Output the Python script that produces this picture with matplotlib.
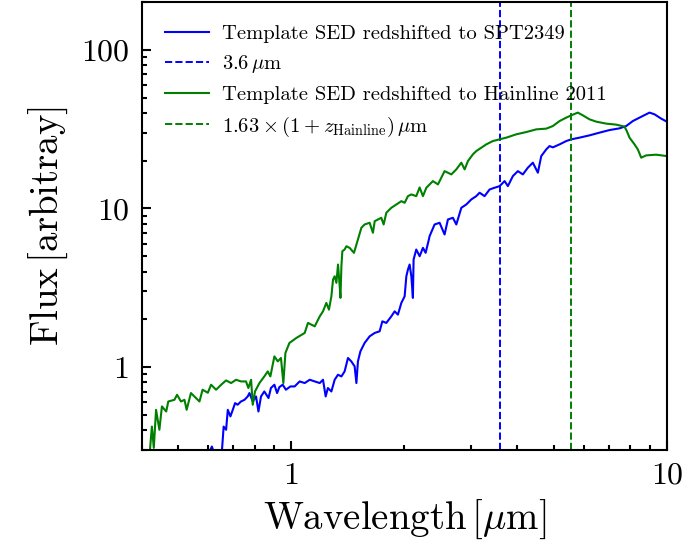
import matplotlib
matplotlib.use("Agg")
import matplotlib.pyplot as plt

plt.rcParams["font.family"] = ["cmr10", "DejaVu Serif"]
plt.rcParams["mathtext.fontset"] = "cm"
plt.rcParams["axes.formatter.use_mathtext"] = True
plt.rcParams["axes.unicode_minus"] = False

# Template SED redshifted to SPT2349 (z ~ 4.3)
spt_wave = [0.60, 0.614, 0.625, 0.652, 0.660, 0.670, 0.677, 0.688, 0.698, 0.708,
            0.719, 0.734, 0.750, 0.765, 0.773, 0.789, 0.805, 0.817, 0.830, 0.847,
            0.869, 0.882, 0.901, 0.916, 0.929, 0.948, 0.967, 0.994, 1.020, 1.052,
            1.085, 1.119, 1.154, 1.190, 1.214, 1.234, 1.251, 1.278, 1.304, 1.331,
            1.359, 1.386, 1.415, 1.444, 1.474, 1.490, 1.504, 1.527, 1.567, 1.616,
            1.667, 1.718, 1.747, 1.790, 1.846, 1.884, 1.922, 1.963, 2.003, 2.024,
            2.044, 2.065, 2.087, 2.107, 2.116, 2.151, 2.196, 2.241, 2.278, 2.324,
            2.334, 2.407, 2.482, 2.559, 2.612, 2.693, 2.750, 2.836, 2.924, 3.015,
            3.108, 3.172, 3.270, 3.373, 3.477, 3.586, 3.698, 3.773, 3.890, 4.011,
            4.136, 4.265, 4.398, 4.535, 4.630, 4.775, 4.872, 4.972, 5.181, 5.397,
            5.566, 5.855, 6.226, 6.620, 7.039, 7.484, 7.797, 8.120, 8.460, 8.995,
            9.275, 9.663, 10.0]
spt_flux = [0.28, 0.315, 0.28, 0.28, 0.421, 0.402, 0.537, 0.488, 0.537, 0.592,
            0.578, 0.606, 0.621, 0.652, 0.685, 0.606, 0.652, 0.524, 0.652, 0.701,
            0.637, 0.737, 0.773, 0.685, 0.747, 0.773, 0.719, 0.754, 0.754, 0.811,
            0.792, 0.831, 0.811, 0.792, 0.831, 0.652, 0.737, 0.701, 0.831, 0.894,
            0.872, 0.938, 1.140, 1.085, 1.009, 0.792, 1.085, 1.255, 1.418, 1.561,
            1.640, 1.679, 1.941, 1.897, 2.087, 2.245, 2.140, 2.537, 2.792, 3.735,
            4.118, 4.429, 3.735, 2.729, 4.762, 5.508, 4.996, 5.645, 5.250, 6.371,
            6.683, 7.925, 8.124, 6.852, 8.522, 8.735, 7.925, 10.10, 10.60, 11.40,
            11.96, 12.57, 11.96, 13.18, 13.51, 13.83, 14.88, 13.83, 16.00, 17.20,
            16.40, 18.08, 19.44, 16.81, 21.40, 23.59, 24.75, 24.29, 25.37, 26.62,
            27.29, 27.97, 28.92, 30.08, 31.23, 32.02, 33.11, 35.60, 37.41, 40.24,
            39.25, 36.87, 35.29]

# Template SED redshifted to Hainline 2011 (z ~ 2.4)
hl_wave = [0.419, 0.425, 0.430, 0.436, 0.445, 0.452, 0.464, 0.470, 0.488, 0.496,
           0.508, 0.519, 0.526, 0.540, 0.569, 0.580, 0.599, 0.611, 0.630, 0.650,
           0.670, 0.691, 0.712, 0.734, 0.757, 0.768, 0.781, 0.789, 0.800, 0.822,
           0.847, 0.865, 0.879, 0.901, 0.920, 0.938, 0.952, 0.964, 0.988, 1.031,
           1.085, 1.107, 1.154, 1.190, 1.214, 1.239, 1.259, 1.278, 1.291, 1.304,
           1.318, 1.331, 1.345, 1.351, 1.359, 1.367, 1.386, 1.401, 1.429, 1.468,
           1.504, 1.536, 1.567, 1.616, 1.649, 1.667, 1.701, 1.736, 1.761, 1.790,
           1.846, 1.904, 1.963, 2.003, 2.044, 2.087, 2.151, 2.196, 2.241, 2.288,
           2.382, 2.457, 2.559, 2.667, 2.750, 2.836, 2.894, 2.953, 3.044, 3.108,
           3.206, 3.305, 3.441, 3.586, 3.736, 3.972, 4.224, 4.491, 4.775, 4.972,
           5.181, 5.397, 5.566, 5.794, 5.974, 6.226, 6.486, 6.899, 7.333, 7.717,
           7.825, 7.956, 8.204, 8.372, 8.548, 8.814, 9.371, 10.0]
hl_flux = [0.28, 0.421, 0.309, 0.537, 0.402, 0.564, 0.524, 0.606, 0.621, 0.668,
           0.606, 0.621, 0.537, 0.685, 0.606, 0.719, 0.688, 0.773, 0.719, 0.773,
           0.823, 0.792, 0.831, 0.811, 0.811, 0.737, 0.831, 0.578, 0.701, 0.792,
           0.872, 0.938, 0.872, 1.167, 1.085, 1.140, 0.792, 1.226, 1.418, 1.525,
           1.640, 1.897, 1.805, 2.087, 2.245, 2.537, 2.301, 2.792, 3.561, 3.735,
           3.394, 4.429, 3.230, 2.729, 4.320, 5.374, 5.508, 5.778, 5.645, 5.250,
           6.371, 7.552, 7.925, 8.124, 7.023, 8.315, 8.522, 8.735, 7.925, 9.394,
           10.10, 10.60, 11.12, 10.86, 11.96, 12.26, 11.96, 13.57, 11.96, 13.51,
           14.88, 14.18, 17.20, 16.40, 17.64, 19.44, 17.64, 19.90, 21.93, 23.01,
           24.18, 25.37, 26.62, 27.29, 27.97, 29.35, 30.34, 31.55, 31.88, 33.11,
           35.60, 37.41, 38.68, 40.24, 38.68, 36.49, 35.29, 34.28, 33.79, 32.82,
           30.78, 27.97, 25.37, 23.59, 20.91, 21.62, 21.84, 21.40]

irac_wave = 3.6
z_hainline = 2.4
rest_wave = 1.63

fig = plt.figure(figsize=(6.86, 5.5), dpi=100)
ax = fig.add_axes([0.207, 0.182, 0.765, 0.814])

ax.plot(spt_wave, spt_flux, color="blue", lw=1.5,
        label="Template SED redshifted to SPT2349")
ax.axvline(irac_wave, color="blue", ls="--", lw=1.4, label=r"$3.6\,\mu$m")
ax.plot(hl_wave, hl_flux, color="green", lw=1.5,
        label="Template SED redshifted to Hainline 2011")
ax.axvline(rest_wave * (1 + z_hainline), color="green", ls="--", lw=1.4,
           label=r"$1.63\times(1+z_{\rm Hainline})\,\mu$m")

ax.set_xscale("log")
ax.set_yscale("log")
ax.set_xlim(0.4, 10)
ax.set_ylim(0.3, 200)

ax.set_xticks([1, 10])
ax.set_xticklabels(["1", "10"])
ax.set_yticks([1, 10, 100])
ax.set_yticklabels(["1", "10", "100"])

ax.tick_params(which="both", direction="in", top=False, right=False, width=1.5)
ax.tick_params(which="major", length=6.5, labelsize=23, pad=9)
ax.tick_params(which="minor", length=3.6)
for s in ax.spines.values():
    s.set_linewidth(1.5)

ax.set_xlabel(r"$\mathrm{Wavelength}\,[\mu\mathrm{m}]$", fontsize=28, labelpad=6)
ax.set_ylabel(r"$\mathrm{Flux}\,[\mathrm{arbitray}]$", fontsize=28, labelpad=8)

ax.legend(loc="upper left", frameon=False, fontsize=14.8, handlelength=2.15,
          handletextpad=0.65, labelspacing=0.5, borderaxespad=0.7)

fig.savefig("out.png", dpi=100)
